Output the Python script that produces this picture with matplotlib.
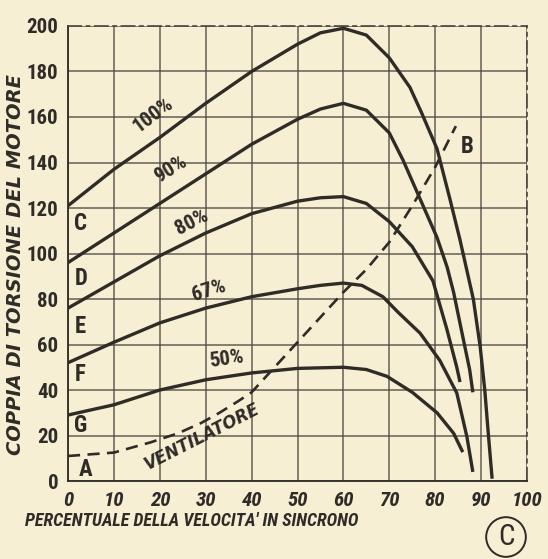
import matplotlib
matplotlib.use("Agg")
import matplotlib.pyplot as plt
from matplotlib import font_manager as fm

# ---- data ----
x100 = [0, 10, 20, 30, 40, 50, 55, 60, 65, 70, 74.5, 77, 80.4, 83.2, 85.4, 88.3, 89.8, 90.8, 91.6, 92.4]
y100 = [121, 137, 151, 166, 180, 192, 197, 199, 196, 186, 173, 162, 146, 124, 106, 80, 59, 40, 20, 1]

x90 = [0, 10, 20, 30, 40, 50, 55, 60, 65, 70, 73, 76.7, 80.4, 82.6, 84, 86, 87.5, 88.2]
y90 = [96, 109, 122, 135, 148, 159, 163.5, 166, 163, 153, 141, 124, 107, 94, 83, 63.5, 49, 39]

x80 = [0, 10, 20, 30, 40, 50, 55, 60, 65, 70, 75, 79.5, 82.5, 84.7, 85.4]
y80 = [76, 87.5, 99, 109, 117.5, 123, 124.5, 125, 122, 114, 103, 88, 67, 50, 43.5]

x67 = [0, 10, 20, 30, 40, 50, 55, 60, 64, 68.6, 72, 76.7, 81, 84.7, 86.9, 88.2]
y67 = [52, 61, 69.5, 76, 81, 84.5, 86, 87, 86, 81, 74, 65, 53, 38.7, 19.5, 4]

x50 = [0, 10, 20, 30, 40, 50, 60, 65, 69.5, 75, 80.4, 84, 86]
y50 = [29, 33.5, 40, 44.5, 47.5, 49.5, 50, 49, 46, 39, 30, 21, 12.7]

xfan = [0, 10, 18, 24, 29, 33, 37, 40, 45, 50, 55, 60, 65, 70, 75, 80, 84.5]
yfan = [11, 12.5, 17, 21, 25.5, 30, 35, 39, 50, 61, 72, 83, 93, 105, 121, 138, 156]

curve_labels = ["100%", "90%", "80%", "67%", "50%"]
curve_label_pos = [(18.6, 161), (22.4, 137), (27.0, 113.5), (30.6, 83.5), (34.6, 53.5)]
curve_label_rot = [37, 32, 27, 17, 8]

letters = ["C", "D", "E", "F", "G", "A", "B"]
letter_pos = [(1.4, 113), (1.4, 89), (1.4, 68), (1.4, 47), (1.4, 24.5), (2.4, 5), (87.0, 147)]

xticks = [0, 10, 20, 30, 40, 50, 60, 70, 80, 90, 100]
yticks = [0, 20, 40, 60, 80, 100, 120, 140, 160, 180, 200]

BG = "#f6efd4"
INK = "#2f2b26"
GRID = "#4a463e"

# pick a condensed face if one is installed
_fonts = fm.fontManager.ttflist
_names = {f.name for f in _fonts}
STRETCH = "normal"
FAM = None
for cand in ["Roboto Condensed", "Liberation Sans Narrow", "Open Sans Condensed", "DejaVu Sans Condensed"]:
    if cand in _names:
        FAM = cand
        break
if FAM is None:
    if any(f.name == "DejaVu Sans" and "condensed" in str(f.stretch) for f in _fonts):
        FAM = "DejaVu Sans"
        STRETCH = "condensed"
    else:
        FAM = "Liberation Sans"
plt.rcParams["font.family"] = [FAM, "DejaVu Sans"]
plt.rcParams["font.stretch"] = STRETCH
WIDE = ["DejaVu Sans"]

fig = plt.figure(figsize=(5.48, 5.59), dpi=100, facecolor=BG)
ax = fig.add_axes([0.1241, 0.1395, 0.8376, 0.814])
ax.set_facecolor(BG)

ax.set_xlim(0, 100)
ax.set_ylim(0, 200)
ax.set_xticks(xticks)
ax.set_yticks(yticks)
ax.set_xticklabels([str(v) for v in xticks], fontsize=15, style="italic", fontweight="bold",
                   color=INK, fontstretch=STRETCH)
ax.set_yticklabels([str(v) for v in yticks], fontsize=15, fontweight="bold", color=INK,
                   fontstretch=STRETCH)
ax.tick_params(length=0)
ax.tick_params(axis="y", pad=7)
ax.tick_params(axis="x", pad=7)
ax.grid(True, color=GRID, lw=1.1, alpha=0.85)
ax.set_axisbelow(True)
for side in ["left", "bottom"]:
    ax.spines[side].set_color(INK)
    ax.spines[side].set_linewidth(1.3)
for side in ["top", "right"]:
    ax.spines[side].set_color(GRID)
    ax.spines[side].set_linewidth(1.2)
    ax.spines[side].set_linestyle((0, (8, 3, 2, 3)))

for xs, ys in [(x100, y100), (x90, y90), (x80, y80), (x67, y67), (x50, y50)]:
    ax.plot(xs, ys, color=INK, lw=2.4, solid_capstyle="butt", solid_joinstyle="round", zorder=3)

ax.plot(xfan, yfan, color=INK, lw=1.9, dashes=(4.6, 2.8), zorder=3)

for lab, (lx, ly), rot in zip(curve_labels, curve_label_pos, curve_label_rot):
    ax.text(lx, ly, lab, fontsize=15, rotation=rot, ha="center", va="center",
            color=INK, fontweight="bold", rotation_mode="anchor", zorder=4, fontstretch=STRETCH)

ax.text(29.3, 19.5, "VENTILATORE", fontsize=12, rotation=27, ha="center", va="center",
        color=INK, fontweight="bold", style="italic", rotation_mode="anchor", zorder=4,
        family=WIDE)

for lab, (lx, ly) in zip(letters, letter_pos):
    ax.text(lx, ly, lab, fontsize=16.5, ha="left" if lab != "B" else "center", va="center",
            color=INK, fontweight="bold", zorder=4, fontstretch=STRETCH)

ax.set_xlabel("PERCENTUALE DELLA VELOCITA' IN SINCRONO", fontsize=13, style="italic",
              fontweight="bold", color=INK, fontstretch=STRETCH)
ax.xaxis.set_label_coords(0.269, -0.068)
ax.set_ylabel("COPPIA DI TORSIONE DEL MOTORE", fontsize=14, style="italic",
              fontweight="bold", color=INK, family=WIDE)
ax.yaxis.set_label_coords(-0.094, 0.475)

fig.text(506 / 548, 1 - 537 / 559, "C", fontsize=21, ha="center", va="center", color=INK,
         bbox=dict(boxstyle="circle,pad=0.2", fc="none", ec=INK, lw=1.4))

fig.savefig("out.png", dpi=100, facecolor=BG)
